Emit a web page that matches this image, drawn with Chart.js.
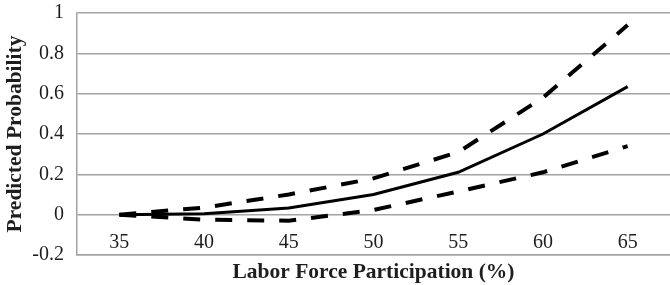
<!DOCTYPE html>
<html>
<head>
<meta charset="utf-8">
<script src="https://cdn.jsdelivr.net/npm/chart.js@4/dist/chart.umd.min.js"></script>
<style>
  html, body { margin: 0; padding: 0; background: #fff; }
  #wrap { width: 670px; height: 285px; }
</style>
</head>
<body>
<div id="wrap"><canvas id="c" width="670" height="285"></canvas></div>
<script>
const categories = ['35', '40', '45', '50', '55', '60', '65'];
const predicted = [0.00, 0.005, 0.033, 0.10, 0.21, 0.40, 0.635];
const upperBound = [0.00, 0.035, 0.10, 0.18, 0.31, 0.58, 0.94];
const lowerBound = [0.00, -0.025, -0.03, 0.023, 0.115, 0.21, 0.34];
const yTicks = [-0.2, 0, 0.2, 0.4, 0.6, 0.8, 1];

const gridColor = '#a3a3a3';
const textColor = '#1e1e1e';
const serif = "'Liberation Serif', 'DejaVu Serif', serif";

new Chart(document.getElementById('c'), {
  type: 'line',
  data: {
    labels: categories,
    datasets: [
      { label: 'Upper', data: upperBound, borderColor: '#000', borderWidth: 4, borderDash: [17, 15], borderCapStyle: 'butt', pointRadius: 0, tension: 0, fill: false },
      { label: 'Predicted', data: predicted, borderColor: '#000', borderWidth: 3, pointRadius: 0, tension: 0, fill: false },
      { label: 'Lower', data: lowerBound, borderColor: '#000', borderWidth: 4, borderDash: [17, 15], borderCapStyle: 'butt', pointRadius: 0, tension: 0, fill: false }
    ]
  },
  options: {
    responsive: false,
    animation: false,
    layout: { padding: { top: 1, right: 0, bottom: 0, left: 0 } },
    plugins: { legend: { display: false }, tooltip: { enabled: false } },
    scales: {
      x: {
        type: 'category',
        offset: true,
        grid: { display: false, drawTicks: false },
        border: { display: true, color: gridColor, width: 1.5 },
        ticks: { color: textColor, font: { family: serif, size: 20 }, mirror: true, padding: 0, maxRotation: 0, autoSkip: false },
        title: { display: true, text: 'Labor Force Participation (%)', color: textColor, font: { family: serif, size: 21.5, weight: 'bold' }, padding: { top: 0, bottom: 0 } },
        afterFit: (s) => { s.height = 30; }
      },
      y: {
        min: -0.2,
        max: 1,
        afterBuildTicks: (s) => { s.ticks = yTicks.map(v => ({ value: v })); },
        grid: { color: gridColor, lineWidth: 1.5, drawTicks: true, tickLength: 12, tickColor: 'rgba(0,0,0,0)' },
        border: { display: true, color: gridColor, width: 1.5 },
        ticks: {
          color: textColor, font: { family: serif, size: 20 }, padding: 1,
          callback: (v) => { const r = Math.round(v * 10) / 10; return String(r); }
        },
        title: { display: true, text: 'Predicted Probability', color: textColor, font: { family: serif, size: 21.5, weight: 'bold' }, padding: { top: 3, bottom: 0 } },
        afterFit: (s) => { s.width = 77; }
      }
    }
  }
});
</script>
</body>
</html>
